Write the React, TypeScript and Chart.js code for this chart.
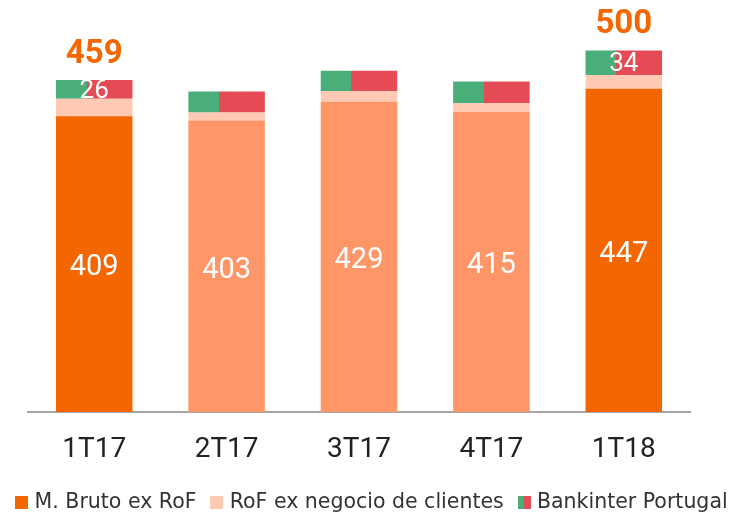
import React, { useEffect, useRef } from 'react';
import { Chart, registerables } from 'chart.js';

Chart.register(...registerables);

// ---- data ----
const CATEGORIES = ['1T17', '2T17', '3T17', '4T17', '1T18'];
const M_BRUTO_EX_ROF = [409, 403, 429, 415, 447];
const ROF_EX_NEGOCIO = [24, 11, 15, 12, 19];
const BANKINTER_PORTUGAL = [26, 29, 28, 30, 34];
const HIGHLIGHTED = [true, false, false, false, true];
const SERIES_NAMES = ['M. Bruto ex RoF', 'RoF ex negocio de clientes', 'Bankinter Portugal'];
const Y_MAX = 560;

// ---- style ----
const DARK_ORANGE = '#F46600';
const SALMON = '#FF9668';
const PEACH = '#FFC9B4';
const GREEN = '#4AAE7B';
const RED = '#E54B55';
const BAR_PCT = 0.578;
const GREEN_SHARE = 0.4;

function makeSwatch(colors: string[], shares: number[]): HTMLCanvasElement {
  const c = document.createElement('canvas');
  c.width = 13;
  c.height = 13;
  const g = c.getContext('2d')!;
  let x = 0;
  colors.forEach((col, k) => {
    const w = k === colors.length - 1 ? 13 - x : Math.round(13 * shares[k]);
    g.fillStyle = col;
    g.fillRect(x, 0, w, 13);
    x += w;
  });
  return c;
}

const labelsPlugin = {
  id: 'barLabels',
  afterDatasetsDraw(chart: any) {
    const { ctx } = chart;
    const m0 = chart.getDatasetMeta(0);
    const m2 = chart.getDatasetMeta(2);
    ctx.save();
    ctx.textAlign = 'center';
    ctx.textBaseline = 'middle';
    ctx.fillStyle = '#ffffff';
    ctx.font = '29px Roboto';
    m0.data.forEach((el: any, i: number) => {
      const { x, y, base } = el.getProps(['x', 'y', 'base'], true);
      ctx.fillText(String(M_BRUTO_EX_ROF[i]), x, (y + base) / 2 + 4);
    });
    ctx.font = '26px Roboto';
    m2.data.forEach((el: any, i: number) => {
      if (!HIGHLIGHTED[i]) return;
      const { x, y, base } = el.getProps(['x', 'y', 'base'], true);
      ctx.fillText(String(BANKINTER_PORTUGAL[i]), x, (y + base) / 2 + 2);
    });
    ctx.font = 'bold 33px Roboto';
    ctx.fillStyle = DARK_ORANGE;
    ctx.textBaseline = 'alphabetic';
    m2.data.forEach((el: any, i: number) => {
      if (!HIGHLIGHTED[i]) return;
      const { x, y } = el.getProps(['x', 'y'], true);
      const total = M_BRUTO_EX_ROF[i] + ROF_EX_NEGOCIO[i] + BANKINTER_PORTUGAL[i];
      ctx.fillText(String(total), x, y - 17);
    });
    ctx.restore();
  },
};

export default function App() {
  const canvasRef = useRef<HTMLCanvasElement | null>(null);

  useEffect(() => {
    if (!canvasRef.current) return;
    const swatches = [
      makeSwatch([DARK_ORANGE], [1]),
      makeSwatch([PEACH], [1]),
      makeSwatch([GREEN, RED], [0.45, 0.55]),
    ];
    const chart = new Chart(canvasRef.current, {
      type: 'bar',
      data: {
        labels: CATEGORIES,
        datasets: [
          {
            label: SERIES_NAMES[0],
            data: M_BRUTO_EX_ROF,
            backgroundColor: HIGHLIGHTED.map((h) => (h ? DARK_ORANGE : SALMON)),
            borderWidth: 0,
          },
          {
            label: SERIES_NAMES[1],
            data: ROF_EX_NEGOCIO,
            backgroundColor: PEACH,
            borderWidth: 0,
          },
          {
            label: SERIES_NAMES[2],
            data: BANKINTER_PORTUGAL,
            borderWidth: 0,
            backgroundColor: (c: any) => {
              const ch = c.chart;
              const xs = ch.scales && ch.scales.x;
              if (!xs || c.dataIndex === undefined) return GREEN;
              const center = xs.getPixelForValue(c.dataIndex);
              const w = (xs.width / CATEGORIES.length) * BAR_PCT;
              const g = ch.ctx.createLinearGradient(center - w / 2, 0, center + w / 2, 0);
              g.addColorStop(0, GREEN);
              g.addColorStop(GREEN_SHARE, GREEN);
              g.addColorStop(GREEN_SHARE, RED);
              g.addColorStop(1, RED);
              return g;
            },
          },
        ],
      },
      options: {
        responsive: false,
        animation: false,
        events: [],
        layout: { padding: { top: 7, left: 0, right: 0, bottom: 0 } },
        datasets: { bar: { categoryPercentage: 1, barPercentage: BAR_PCT } },
        scales: {
          x: {
            stacked: true,
            grid: { display: false, drawTicks: false },
            border: { display: true, color: '#A6A6A6', width: 2 },
            ticks: { color: '#222222', font: { family: 'Roboto', size: 28 }, padding: 21 },
            afterFit: (s: any) => {
              s.height = 62.5;
            },
          },
          y: {
            stacked: true,
            min: 0,
            max: Y_MAX,
            grid: { display: false, drawTicks: false },
            border: { display: false },
            ticks: { display: false },
            afterFit: (s: any) => {
              s.width = 28;
            },
          },
          yRight: {
            position: 'right',
            grid: { display: false, drawTicks: false },
            border: { display: false },
            ticks: { display: false },
            afterFit: (s: any) => {
              s.width = 57;
            },
          },
        },
        plugins: {
          tooltip: { enabled: false },
          legend: {
            position: 'bottom',
            labels: {
              usePointStyle: true,
              pointStyleWidth: 5,
              padding: 18,
              color: '#333333',
              font: { family: 'DejaVu Sans', size: 20.5 },
              generateLabels: () =>
                SERIES_NAMES.map((text, i) => ({
                  text,
                  pointStyle: swatches[i],
                  fillStyle: 'transparent',
                  strokeStyle: 'transparent',
                  lineWidth: 0,
                  hidden: false,
                  datasetIndex: i,
                  fontColor: '#333333',
                })),
            },
          },
        },
      } as any,
      plugins: [labelsPlugin],
    });
    return () => chart.destroy();
  }, []);

  return (
    <div
      style={{
        position: 'fixed',
        left: 0,
        top: 0,
        width: 747,
        height: 515,
        overflow: 'hidden',
        background: '#ffffff',
      }}
    >
      <canvas ref={canvasRef} width={747} height={523} style={{ display: 'block' }} />
    </div>
  );
}
